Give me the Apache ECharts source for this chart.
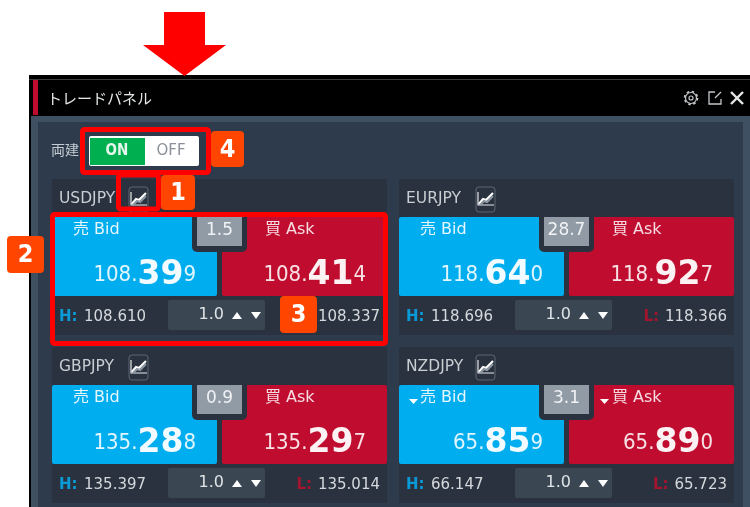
<!DOCTYPE html>
<html>
<head>
<meta charset="utf-8">
<style>
html,body{margin:0;padding:0;background:#fff;}
#panel{width:750px;height:507px;}
</style>
<script src="https://cdn.jsdelivr.net/npm/echarts@6/dist/echarts.min.js"></script>
</head>
<body>
<div id="panel"></div>
<script>
var titleText = 'トレードパネル';
var hedgeLabel = '両建';
var toggleLabels = ['ON', 'OFF'];
var pairs = ['USDJPY', 'EURJPY', 'GBPJPY', 'NZDJPY'];
var bidPrices = ['108.399', '118.640', '135.288', '65.859'];
var askPrices = ['108.414', '118.927', '135.297', '65.890'];
var spreads = ['1.5', '28.7', '0.9', '3.1'];
var highs = ['108.610', '118.696', '135.397', '66.147'];
var lows = ['108.337', '118.366', '135.014', '65.723'];
var lots = ['1.0', '1.0', '1.0', '1.0'];
var falling = [false, false, false, true];
var bidLabel = '売 Bid';
var askLabel = '買 Ask';
var badges = ['1', '2', '3', '4'];

var JP = '"Noto Sans CJK JP", "DejaVu Sans", sans-serif';
var DV = '"DejaVu Sans", "Noto Sans CJK JP", sans-serif';
var COND = '"DejaVu Sans Condensed", "DejaVu Sans", sans-serif';
var RED = '#ff0000';
var els = [];

function rect(x, y, w, h, fill, r) {
    els.push({type: 'rect', shape: {x: x, y: y, width: w, height: h, r: r || 0}, style: {fill: fill}});
}
function frame(x, y, w, h) {
    els.push({type: 'rect', shape: {x: x, y: y, width: w, height: h, r: 2}, style: {fill: 'transparent', stroke: RED, lineWidth: 5}});
}
function text(str, x, y, size, fill, opts) {
    opts = opts || {};
    els.push({type: 'text', x: x, y: y, style: {
        text: str, fontSize: size, fontFamily: opts.family || DV, fontWeight: opts.weight || 'normal',
        fill: fill, align: opts.align || 'left', verticalAlign: 'middle'
    }});
}
function poly(points, fill) {
    els.push({type: 'polygon', shape: {points: points}, style: {fill: fill}});
}
function line(points, color, width) {
    els.push({type: 'polyline', shape: {points: points}, style: {stroke: color, lineWidth: width || 1, fill: null}});
}
function badge(label, x, y, w, h) {
    rect(x, y, w, h, '#ff4500', 4);
    text(label, x + w / 2, y + h / 2 + 1, 25, '#fff', {align: 'center', weight: 'bold', family: COND});
}

// 売買レート: 前半 + 大きい2桁 + 最後の1桁
function priceText(price, right, y) {
    var n = price.length;
    els.push({type: 'text', x: right, y: y, style: {
        text: '{a|' + price.slice(0, n - 3) + '}{b|' + price.slice(n - 3, n - 1) + '}{a|' + price.slice(n - 1) + '}',
        align: 'right', verticalAlign: 'bottom', fill: '#fff',
        rich: {
            a: {fontSize: 22, fontFamily: COND, fill: 'rgba(255,255,255,0.88)', lineHeight: 42},
            b: {fontSize: 33, fontFamily: DV, fontWeight: 'bold', fill: 'rgba(255,255,255,0.95)', lineHeight: 42}
        }
    }});
}

function chartIcon(x, y) {
    els.push({type: 'rect', shape: {x: x, y: y, width: 19, height: 25, r: 3}, style: {fill: 'transparent', stroke: '#5c6772', lineWidth: 1}});
    line([[x + 2, y + 5], [x + 2, y + 18], [x + 18, y + 18]], '#e8eaec', 1.2);
    line([[x + 3, y + 17], [x + 7, y + 12], [x + 10, y + 13], [x + 17, y + 6]], '#fff', 2.2);
    line([[x + 4, y + 18], [x + 8, y + 14], [x + 11, y + 15], [x + 17, y + 9]], '#8d98a3', 2);
}

function drawCard(i, cx, cy) {
    var top = cy + 38;
    var bottom = top + 79;
    rect(cx, cy, 335, 156, '#29323e');
    text(pairs[i], cx + 7, cy + 20, 15.5, '#c9ced3');
    chartIcon(cx + 77, cy + 8);
    rect(cx, top, 165, 79, '#00adef', 2);
    rect(cx + 170, top, 165, 79, '#c00d2f', 2);
    // スプレッド
    rect(cx + 140, top, 55, 35, '#29323e', [0, 0, 5, 5]);
    rect(cx + 145, top, 45, 29, '#919ba6');
    text(spreads[i], cx + 167.5, top + 14, 17, '#f0f2f4', {align: 'center'});
    text(bidLabel, cx + 21, top + 13, 16, '#e6f6fd');
    text(askLabel, cx + 213, top + 13, 16, '#f6dde2');
    if (falling[i]) {
        poly([[cx + 10, top + 14], [cx + 19, top + 14], [cx + 14.5, top + 19]], '#fff');
        poly([[cx + 201, top + 14], [cx + 210, top + 14], [cx + 205.5, top + 19]], '#fff');
    }
    priceText(bidPrices[i], cx + 144, top + 79);
    priceText(askPrices[i], cx + 314, top + 79);
    // 下段
    text('H:', cx + 7, bottom + 21, 15, '#0a9ad8', {weight: 'bold'});
    text(highs[i], cx + 32, bottom + 21, 15, '#d5d9dd');
    rect(cx + 116, bottom + 4, 97, 30, '#3a4753', 2);
    text(lots[i], cx + 172, bottom + 19, 16, '#dfe3e6', {align: 'right'});
    poly([[cx + 180, bottom + 23], [cx + 190, bottom + 23], [cx + 185, bottom + 16]], '#fff');
    poly([[cx + 199, bottom + 16], [cx + 209, bottom + 16], [cx + 204, bottom + 23]], '#fff');
    els.push({type: 'text', x: cx + 328, y: bottom + 21, style: {
        text: '{l|L:}{v|' + lows[i] + '}', align: 'right', verticalAlign: 'middle',
        rich: {
            l: {fontSize: 15, fontFamily: DV, fontWeight: 'bold', fill: '#a5142f', padding: [0, 6, 0, 0]},
            v: {fontSize: 15, fontFamily: DV, fill: '#d5d9dd'}
        }
    }});
}

function drawWindow() {
    rect(29, 75, 721, 432, '#000');
    rect(29, 79, 721, 1, '#3d3d3d');
    rect(33, 80, 5, 35, '#c00d2f');
    rect(31, 116, 719, 391, '#3f5062');
    rect(38, 122, 705, 385, '#2d3b4c');
    text(titleText, 47, 98, 15, '#e4e6e8', {family: JP});

    // 設定・別窓・閉じる
    els.push({type: 'circle', shape: {cx: 691, cy: 98, r: 5.5}, style: {fill: 'transparent', stroke: '#c4c8cc', lineWidth: 1.2}});
    els.push({type: 'circle', shape: {cx: 691, cy: 98, r: 6.5}, style: {fill: 'transparent', stroke: '#c4c8cc', lineWidth: 1.6, lineDash: [2.5, 2.6]}});
    els.push({type: 'circle', shape: {cx: 691, cy: 98, r: 2}, style: {fill: 'transparent', stroke: '#c4c8cc', lineWidth: 1.2}});
    line([[715, 92], [709, 92], [709, 104], [721, 104], [721, 99]], '#c4c8cc', 1.3);
    line([[715, 98], [721, 92]], '#c4c8cc', 1.3);
    line([[731, 92], [743, 104]], '#e4e6e8', 2.4);
    line([[743, 92], [731, 104]], '#e4e6e8', 2.4);

    text(hedgeLabel, 51, 150, 14, '#c5ccd3', {family: JP});
    rect(89, 136, 110, 30, '#fff', 2);
    rect(90, 138, 55, 27, '#00b050');
    text(toggleLabels[0], 117, 151, 15, '#e4f6eb', {align: 'center', weight: 'bold', family: COND});
    text(toggleLabels[1], 171, 151, 15, '#8b8f9c', {align: 'center'});
}

function drawMarks() {
    poly([[164, 12], [205, 12], [205, 45], [226, 45], [184.5, 76], [143, 45], [164, 45]], RED);
    frame(82.5, 129.5, 126, 43);
    frame(118.5, 175, 40, 34);
    frame(52.5, 214.5, 333, 129);
    badge(badges[0], 161, 175, 34, 35);
    badge(badges[1], 7, 236, 37, 37);
    badge(badges[2], 280, 296, 37, 37);
    badge(badges[3], 211, 131, 33, 36);
}

drawWindow();
drawCard(0, 52, 179);
drawCard(1, 399, 179);
drawCard(2, 52, 347);
drawCard(3, 399, 347);
drawMarks();

var chart = echarts.init(document.getElementById('panel'), null, {renderer: 'canvas'});
chart.setOption({animation: false, graphic: {elements: els}});
</script>
</body>
</html>
